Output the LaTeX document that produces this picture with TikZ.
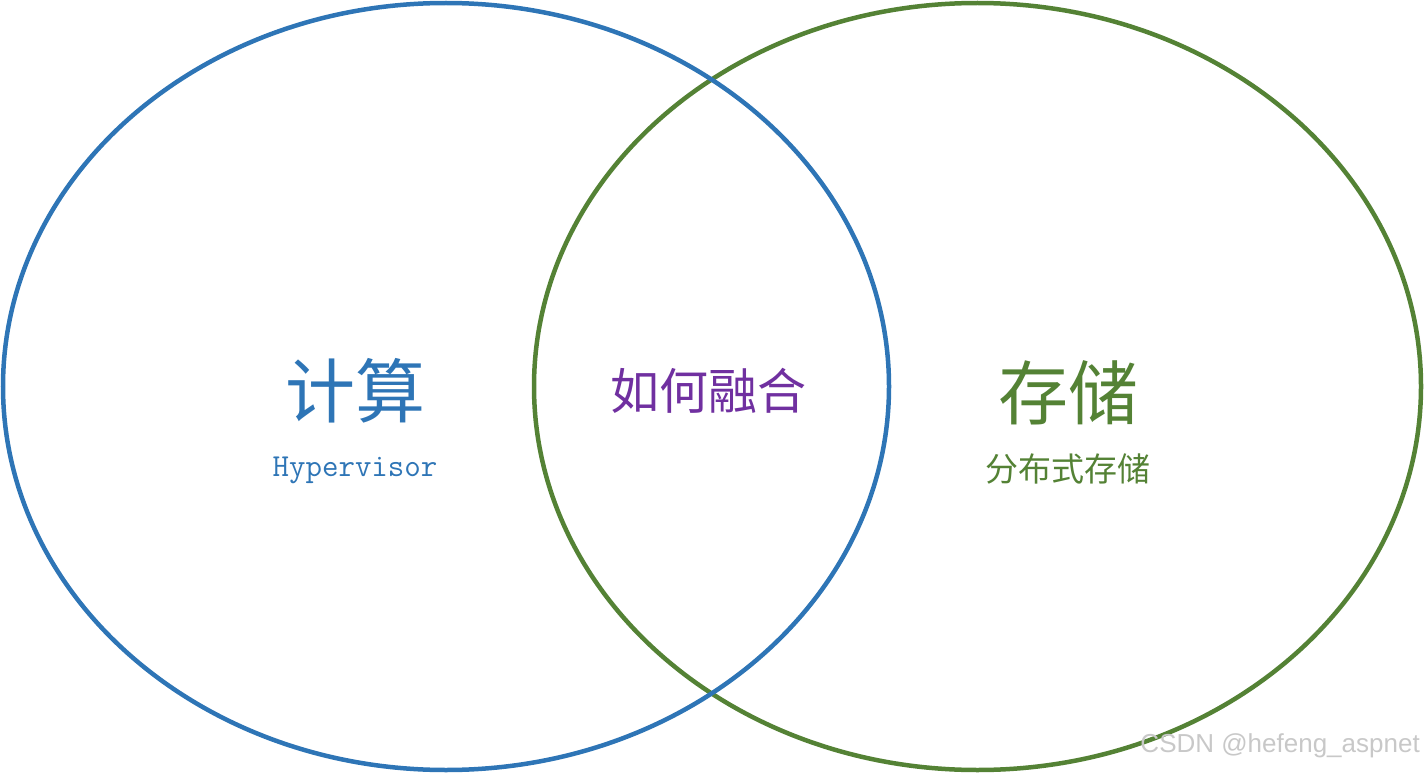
\documentclass[tikz,border=0pt]{standalone}
\usepackage{fontspec}
\newfontfamily\cjk{Noto Sans CJK SC}
\newfontfamily\wmfont{Liberation Sans}
\definecolor{cblue}{HTML}{2E75B6}
\definecolor{cgreen}{HTML}{548235}
\definecolor{cpurple}{HTML}{7030A0}
\definecolor{cwm}{HTML}{C8C8C8}
\begin{document}
\begin{tikzpicture}[x=1pt,y=-1pt,
  ring/.style={line width=4.5pt},
  lbl/.style={inner sep=0pt,anchor=center}]
\useasboundingbox (0,0) rectangle (1424,773);
\draw[ring,cgreen] (977.5,386.5) ellipse [x radius=443.5, y radius=383.5];
\draw[ring,cblue] (446,386.5) ellipse [x radius=443, y radius=383.5];
\node[lbl,text=cblue,font=\cjk\fontsize{70}{80}\selectfont] (compute) at (355,391) {计算};
\node[lbl,text=cblue,font=\ttfamily\fontsize{32}{36}\selectfont] (hyper) at (355,470) {Hypervisor};
\node[lbl,text=cpurple,font=\cjk\fontsize{49}{56}\selectfont] (merge) at (708,391) {如何融合};
\node[lbl,text=cgreen,font=\cjk\fontsize{70}{80}\selectfont] (storage) at (1068,393) {存储};
\node[lbl,text=cgreen,font=\cjk\fontsize{33}{38}\selectfont] (dist) at (1068,469) {分布式存储};
\node[lbl,text=cwm,font=\wmfont\fontsize{26}{30}\selectfont,anchor=east] (wm) at (1420,746) {CSDN @hefeng\_aspnet};
\end{tikzpicture}
\end{document}
